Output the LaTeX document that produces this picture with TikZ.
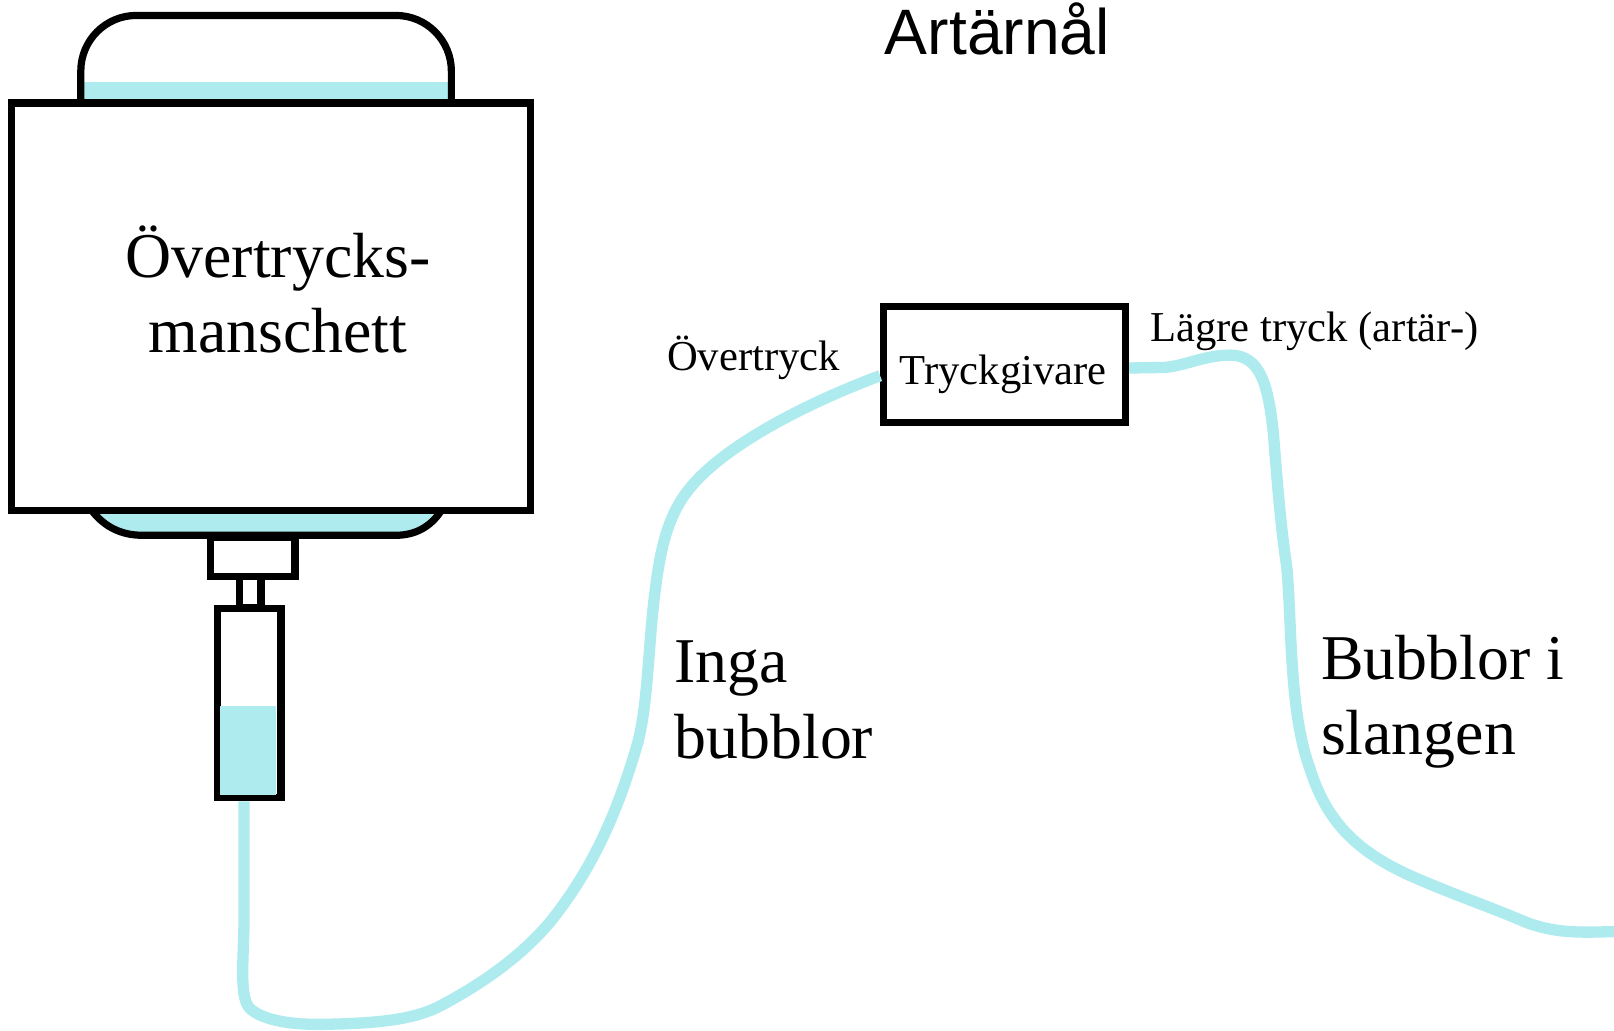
\documentclass[tikz,border=0pt]{standalone}
\usepackage{fontspec}
\setmainfont{Liberation Serif}
\setsansfont{Liberation Sans}
\definecolor{water}{HTML}{AEEBEE}
\tikzset{
	wall/.style={draw=black, line width=3.5pt},
	box/.style={wall, fill=white, inner sep=0pt},
	tube/.style={draw=water, line width=5.5pt},
	bigtext/.style={font=\fontsize{31}{36.5}\selectfont, align=left, inner sep=0pt, anchor=west},
	smalltext/.style={font=\fontsize{20.7}{24}\selectfont, inner sep=0pt},
}
\begin{document}
\begin{tikzpicture}[x=0.5pt, y=-0.5pt]
\useasboundingbox (0, 0) rectangle (1568, 1001);

% bag on top of the cuff
\fill [water] (79, 80) rectangle (438, 98);
\draw [wall, rounded corners=27pt] (78.5, 98) -- (78.5, 15) -- (438.5, 15) -- (438.5, 98);

% lower chamber
\draw [wall, fill=water] (90, 497) .. controls (102, 512) and (118, 520) .. (138, 520)
	-- (385, 520) .. controls (403, 520) and (418, 512) .. (428, 497);

\node (cuff) [box, minimum width=252pt, minimum height=198pt] at (263.5, 298) {};
\node (cufftext) [font=\fontsize{31}{36.5}\selectfont, align=center, inner sep=0pt] at (270, 281) {Övertrycks-\\manschett};

% valve and syringe below the cuff
\node (valve) [box, minimum width=41pt, minimum height=19pt] at (245.5, 541) {};
\node (neck) [box, minimum width=10.5pt, minimum height=15pt] at (243, 575) {};
\node (syringe) [box, minimum width=31pt, minimum height=92pt] at (242, 683) {};
\fill [water] (214, 686) rectangle (268, 772);

\node (givare) [box, minimum width=117.5pt, minimum height=56.5pt] at (976, 354) {};
\node (givaretext) [smalltext] at (974.5, 363.5) {Tryckgivare};
\node (over) [smalltext] at (732, 348) {Övertryck};
\node (lagre) [smalltext] at (1277, 322) {Lägre tryck (artär-)};
\node (title) [font=\sffamily\fontsize{31.2}{36}\selectfont, inner sep=0pt] at (969, 28) {Artärnål};
\node (inga) [bigtext] at (655, 680) {Inga\\bubblor};
\node (slangen) [bigtext] at (1283, 682) {Bubblor i\\slangen};

\coordinate (ut) at (1568, 905);

\draw [tube] ([xshift=-2.5pt]syringe.south) -- (237, 900)
	.. controls (236, 940) and (233, 970) .. (243, 980)
	.. controls (258, 993) and (290, 996) .. (320, 995)
	.. controls (370, 994) and (405, 990) .. (430, 976)
	.. controls (475, 952) and (510, 925) .. (535, 895)
	.. controls (575, 845) and (600, 790) .. (620, 720)
	.. controls (630, 680) and (630, 620) .. (637, 570)
	.. controls (642, 530) and (650, 500) .. (668, 477)
	.. controls (700, 435) and (780, 393) .. ([yshift=-5.5pt]givare.west);
\draw [tube] ([yshift=-1.75pt]givare.east) -- (1130, 357)
	.. controls (1150, 356) and (1170, 345) .. (1195, 345)
	.. controls (1225, 345) and (1232, 375) .. (1237, 420)
	.. controls (1241, 470) and (1244, 510) .. (1250, 550)
	.. controls (1255, 600) and (1252, 690) .. (1272, 745)
	.. controls (1289, 800) and (1320, 830) .. (1380, 855)
	.. controls (1420, 872) and (1450, 882) .. (1480, 895)
	.. controls (1510, 907) and (1535, 906) .. (ut);
\end{tikzpicture}
\end{document}
